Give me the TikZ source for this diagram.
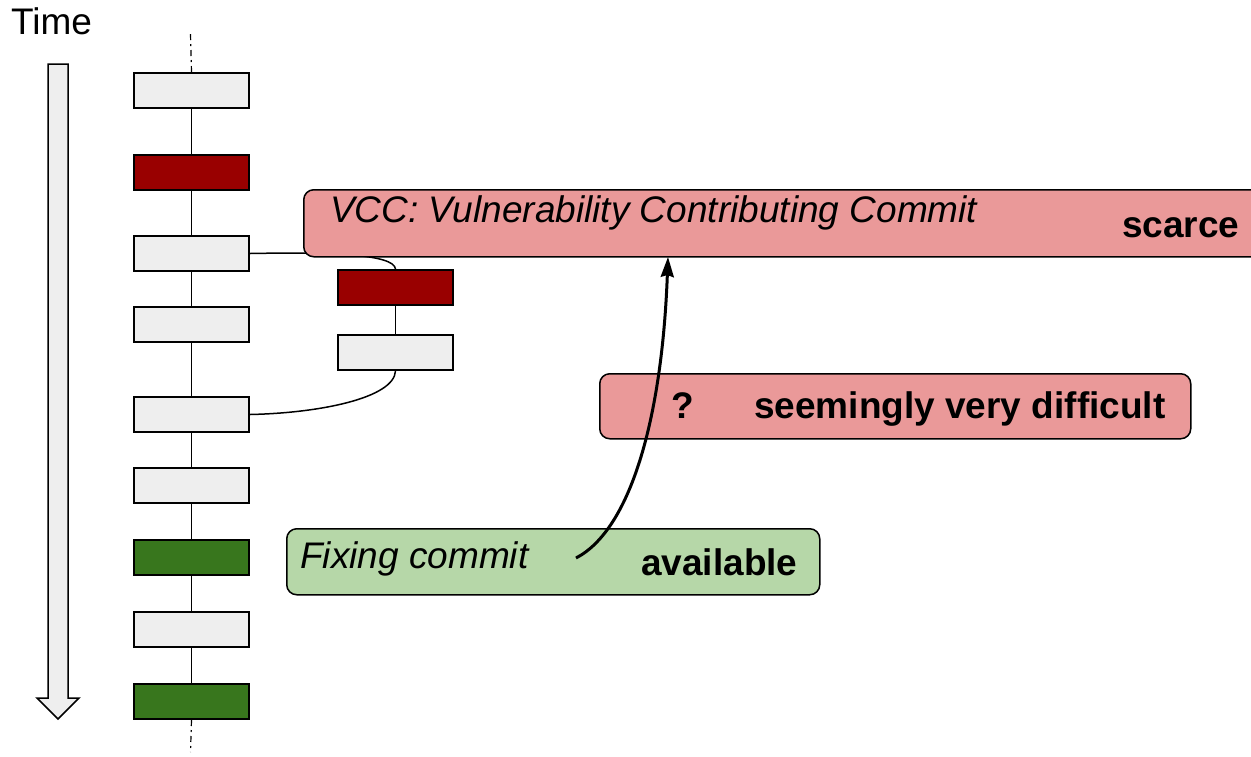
\documentclass[tikz,border=0pt]{standalone}
\usepackage{fontspec}
\setmainfont{Liberation Sans}
\usetikzlibrary{arrows.meta}
\definecolor{lightgr}{HTML}{EEEEEE}
\definecolor{darkred}{HTML}{990000}
\definecolor{darkgreen}{HTML}{38761D}
\definecolor{pinkfill}{HTML}{EA9999}
\definecolor{greenfill}{HTML}{B6D7A8}
\begin{document}
\begin{tikzpicture}[x=1pt,y=-1pt,
  commit/.style={draw=black, line width=2pt, minimum width=115pt, minimum height=35pt, inner sep=0pt, anchor=north west},
  plain/.style={commit, fill=lightgr},
  bad/.style={commit, fill=darkred},
  fixc/.style={commit, fill=darkgreen},
  link/.style={line width=1.5pt},
  dashlink/.style={line width=1.2pt, dash pattern=on 6pt off 4pt on 2pt off 4pt},
  callout/.style={draw=black, line width=1.5pt, rounded corners=10pt, inner sep=0pt, anchor=north west},
  lbl/.style={inner sep=0pt, anchor=base west, font=\fontsize{37}{44}\selectfont}]
\useasboundingbox (0,0) rectangle (1251,756);
\clip (0,0) rectangle (1251,756);

% time arrow
\draw[fill=lightgr, line width=1.5pt] (48,64) -- (68,64) -- (68,698) -- (79,698) -- (58,719) -- (37,698) -- (48,698) -- cycle;
\node[lbl] (time) at (11,34) {Time};

% main column
\node[plain] (c1) at (133,72) {};
\node[bad]   (c2) at (133,154) {};
\node[plain] (c3) at (133,235) {};
\node[plain] (c4) at (133,306) {};
\node[plain] (c5) at (133,396) {};
\node[plain] (c6) at (133,467) {};
\node[fixc]  (c7) at (133,539) {};
\node[plain] (c8) at (133,611) {};
\node[fixc]  (c9) at (133,683) {};
% side branch
\node[bad]   (s1) at (337,269) {};
\node[plain] (s2) at (337,334) {};

\coordinate (topend) at (190.5,34);
\coordinate (botend) at (190.5,752);
\draw[dashlink] (c1.north) -- (topend);
\draw[dashlink] (c9.south) -- (botend);
\foreach \a/\b in {c1/c2,c2/c3,c3/c4,c4/c5,c5/c6,c6/c7,c7/c8,c8/c9,s1/s2}
  \draw[link] (\a.south) -- (\b.north);
\draw[link] (c3.east) .. controls (330,252) and (394,254) .. (s1.north);
\draw[link] (s2.south) .. controls (394,398) and (320,413) .. (c5.east);

% callouts
\node[callout, fill=pinkfill, minimum width=1000pt, minimum height=67pt] (vcc) at (303,189) {};
\node[lbl] (vcct) at (330,222) {\itshape VCC: Vulnerability Contributing Commit};
\node[lbl] (scarce) at (1122,237) {\bfseries scarce};

\node[callout, fill=pinkfill, minimum width=591pt, minimum height=65pt] (hard) at (599,373) {};
\node[lbl] (q) at (671,418) {\bfseries ?};
\node[lbl] (hardt) at (754,418) {\bfseries seemingly very difficult};

\node[callout, fill=greenfill, minimum width=533pt, minimum height=66pt] (fix) at (286,528) {};
\node[lbl] (fixt) at (300,568) {\itshape Fixing commit};
\node[lbl] (avail) at (641,575) {\bfseries available};

\coordinate (fixstart) at (576,558);
\coordinate (vcctip) at (668,257);
\draw[line width=3pt, -{Stealth[length=20pt,width=13pt,inset=2pt]}] (fixstart) .. controls (630,530) and (662,420) .. (vcctip);
\end{tikzpicture}
\end{document}
